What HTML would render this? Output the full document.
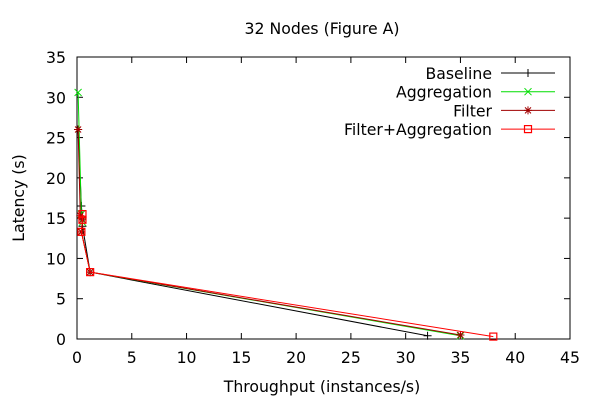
<!DOCTYPE html>
<html><head><meta charset="utf-8"><style>
body{margin:0;background:#fff}
text{font-family:"DejaVu Sans","Liberation Sans",sans-serif;font-size:15.7px;fill:#000}
</style></head><body>
<svg id="chart" width="600" height="400" xmlns="http://www.w3.org/2000/svg">
<text x="322" y="34" text-anchor="middle">32 Nodes (Figure A)</text>
<text x="322" y="392" text-anchor="middle">Throughput (instances/s)</text>
<text transform="translate(24,198) rotate(-90)" text-anchor="middle">Latency (s)</text>
<g id="axes"></g><g id="series"></g><g id="legend"></g>
</svg>
<script>
const xTicks=[0,5,10,15,20,25,30,35,40,45];
const yTicks=[0,5,10,15,20,25,30,35];
const seriesNames=["Baseline","Aggregation","Filter","Filter+Aggregation"];
const seriesColors=["#000","#00dd00","#a00000","#ff0000"];
const baselineX=[0.1,0.4,0.5,0.5,1.2,32];
const baselineY=[26,16.5,15,14,8.3,0.4];
const aggregationX=[0.1,0.4,0.5,0.4,1.2,35];
const aggregationY=[30.6,15.5,14.5,13.3,8.3,0.4];
const filterX=[0.1,0.3,0.5,0.4,1.2,35];
const filterY=[26,15.3,14.8,13.3,8.3,0.5];
const filterAggX=[0.5,0.5,0.4,1.2,38];
const filterAggY=[15.5,14.8,13.3,8.3,0.3];
const L=77,R=570,T=57,B=339;
const sx=v=>L+(v-0)/45*(R-L), sy=v=>B-(v/35)*(B-T);
const NS="http://www.w3.org/2000/svg";
function mk(tag,attrs,parent){const e=document.createElementNS(NS,tag);for(const k in attrs)e.setAttribute(k,attrs[k]);parent.appendChild(e);return e;}
const axes=document.getElementById('axes');
const frame=mk('rect',{x:L,y:T,width:R-L,height:B-T,fill:'none',stroke:'#000','stroke-width':1},axes);


xTicks.forEach(v=>{const x=sx(v);
 mk('line',{x1:x,x2:x,y1:B,y2:B-6,stroke:'#000'},axes);mk('line',{x1:x,x2:x,y1:T,y2:T+6,stroke:'#000'},axes);
 const t=mk('text',{x:x,y:B+24,'text-anchor':'middle'},axes);t.textContent=v;
 
 });
yTicks.forEach(v=>{const y=sy(v);
 mk('line',{x1:L,x2:L+6,y1:y,y2:y,stroke:'#000'},axes);mk('line',{x1:R,x2:R-6,y1:y,y2:y,stroke:'#000'},axes);
 const t=mk('text',{x:L-11,y:y+6,'text-anchor':'end'},axes);t.textContent=v;
 
 });
function marker(g,type,x,y,c){
 if(type===0){mk('path',{d:`M${x-4},${y}h8M${x},${y-4}v8`,stroke:c,fill:'none'},g);}
 else if(type===1){mk('path',{d:`M${x-3.5},${y-3.5}l7,7M${x-3.5},${y+3.5}l7,-7`,stroke:c,fill:'none'},g);}
 else if(type===2){mk('path',{d:`M${x-4},${y}h8M${x},${y-4}v8M${x-3},${y-3}l6,6M${x-3},${y+3}l6,-6`,stroke:c,fill:'none'},g);}
 else {mk('rect',{x:x-3.5,y:y-3.5,width:7,height:7,stroke:c,fill:'none','stroke-width':1.2},g);}
}
const data=[[baselineX,baselineY],[aggregationX,aggregationY],[filterX,filterY],[filterAggX,filterAggY]];
const sg=document.getElementById('series');
data.forEach((d,i)=>{
 const g=mk('g',{},sg);
 
 
 mk('polyline',{points:d[0].map((x,j)=>sx(x)+','+sy(d[1][j])).join(' '),fill:'none',stroke:seriesColors[i],'stroke-width':1},g);
 d[0].forEach((x,j)=>marker(g,i,sx(x),sy(d[1][j]),seriesColors[i]));
});
const lg=document.getElementById('legend');
seriesNames.forEach((n,i)=>{
 const y=73+i*18.7;
 const g=mk('g',{},lg);
 
 
 const t=mk('text',{x:492,y:y+6,'text-anchor':'end'},g);t.textContent=n;
 mk('line',{x1:501,x2:555,y1:y,y2:y,stroke:seriesColors[i]},g);
 marker(g,i,528,y,seriesColors[i]);
});
</script>
</body></html>
